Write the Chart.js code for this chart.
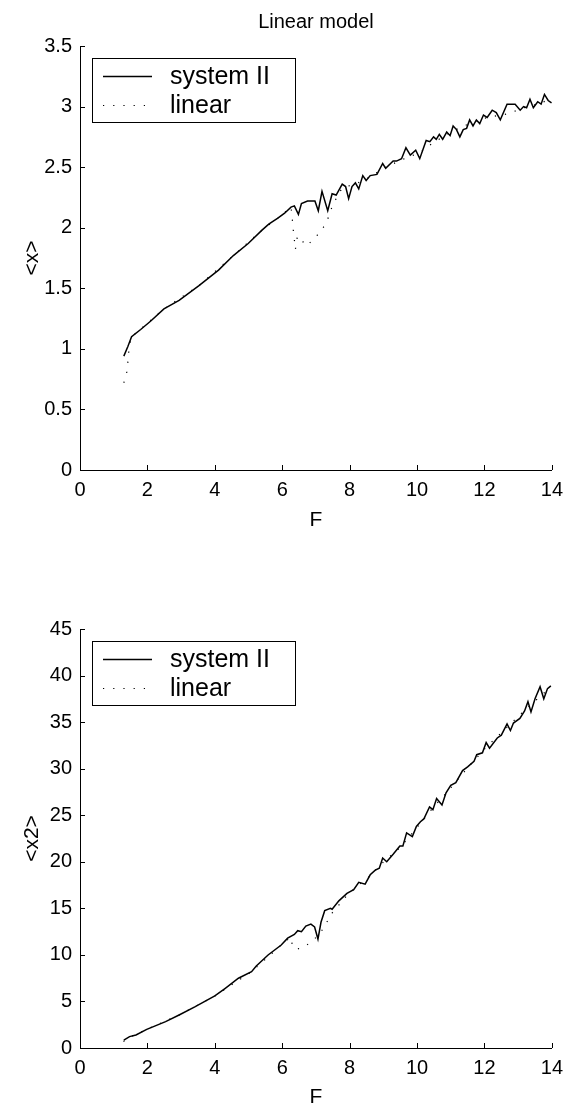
<!DOCTYPE html>
<html>
<head>
<meta charset="utf-8">
<title>Linear model</title>
<script src="https://cdn.jsdelivr.net/npm/chart.js@4/dist/chart.umd.min.js"></script>
<style>
  html, body { margin: 0; padding: 0; background: #fff; }
  #wrap { width: 571px; height: 1112px; position: relative; }
  canvas { display: block; }
</style>
</head>
<body>
<div id="wrap">
  <canvas id="topChart" width="571" height="540"></canvas>
  <canvas id="bottomChart" width="571" height="572"></canvas>
</div>
<script>
// <x> vs F
const fTopSys = [1.30, 1.42, 1.53, 1.8, 2.1, 2.49, 2.94, 3.52, 4.11, 4.55, 4.99, 5.40, 5.6, 5.87, 6.07, 6.26, 6.36, 6.48, 6.57, 6.75,
  6.97, 7.07, 7.18, 7.35, 7.48, 7.6, 7.78, 7.88, 7.97, 8.07, 8.17, 8.27, 8.39, 8.49, 8.61, 8.81, 8.98, 9.07, 9.29, 9.39,
  9.54, 9.67, 9.80, 9.96, 10.08, 10.27, 10.38, 10.49, 10.57, 10.66, 10.76, 10.88, 10.98, 11.07, 11.17, 11.27, 11.37, 11.47, 11.56, 11.66,
  11.76, 11.86, 11.97, 12.08, 12.23, 12.35, 12.47, 12.67, 12.91, 13.06, 13.16, 13.25, 13.35, 13.45, 13.58, 13.68, 13.78, 13.89, 13.99];
const xTopSys = [0.94, 1.02, 1.10, 1.16, 1.23, 1.33, 1.40, 1.52, 1.65, 1.77, 1.87, 1.98, 2.03, 2.08, 2.12, 2.17, 2.18, 2.11, 2.20, 2.22,
  2.22, 2.14, 2.30, 2.14, 2.28, 2.27, 2.36, 2.34, 2.24, 2.34, 2.37, 2.32, 2.43, 2.39, 2.43, 2.44, 2.53, 2.49, 2.55, 2.55,
  2.57, 2.66, 2.60, 2.64, 2.57, 2.72, 2.71, 2.75, 2.73, 2.77, 2.73, 2.79, 2.76, 2.84, 2.81, 2.75, 2.81, 2.82, 2.89, 2.84,
  2.89, 2.86, 2.93, 2.91, 2.97, 2.95, 2.89, 3.02, 3.02, 2.97, 3.00, 2.99, 3.06, 2.99, 3.04, 3.02, 3.10, 3.05, 3.03];

const fTopLin = [1.30, 1.39, 1.43, 1.46, 1.53, 2.49, 3.52, 4.55, 5.40, 5.87, 6.26, 6.29, 6.32, 6.36, 6.39, 6.45, 6.53, 6.72, 6.95, 7.14,
  7.31, 7.50, 7.78, 8.17, 8.61, 9.07, 9.54, 10.08, 10.47, 11.07, 11.56, 12.08, 12.70, 13.16, 13.58, 13.95];
const xTopLin = [0.72, 0.81, 0.92, 1.02, 1.10, 1.33, 1.52, 1.77, 1.98, 2.08, 2.17, 2.10, 2.00, 1.90, 1.82, 1.93, 1.91, 1.85, 1.91, 1.97,
  2.04, 2.19, 2.33, 2.36, 2.42, 2.50, 2.56, 2.62, 2.70, 2.80, 2.86, 2.91, 2.94, 2.99, 3.02, 3.06];

// <x2> vs F
const fBotSys = [1.30, 1.47, 1.66, 1.98, 2.54, 2.94, 3.42, 4.00, 4.31, 4.70, 5.09, 5.23, 5.58, 5.97, 6.16, 6.36, 6.46, 6.57, 6.70, 6.85,
  6.96, 7.06, 7.15, 7.26, 7.43, 7.48, 7.68, 7.92, 8.12, 8.27, 8.46, 8.61, 8.76, 8.88, 8.98, 9.10, 9.29, 9.49, 9.58, 9.69,
  9.86, 9.98, 10.1, 10.2, 10.37, 10.47, 10.58, 10.74, 10.86, 11.0, 11.15, 11.35, 11.50, 11.69, 11.77, 11.94, 12.05, 12.15, 12.38, 12.5,
  12.67, 12.77, 12.86, 13.05, 13.19, 13.29, 13.38, 13.50, 13.65, 13.76, 13.87, 13.97];
const x2BotSys = [0.85, 1.22, 1.40, 2.0, 2.83, 3.54, 4.44, 5.59, 6.41, 7.49, 8.2, 8.8, 9.99, 11.06, 11.8, 12.2, 12.6, 12.5, 13.1, 13.3,
  13.0, 11.7, 13.5, 14.75, 15.0, 14.9, 15.8, 16.6, 17.0, 17.8, 17.6, 18.6, 19.1, 19.3, 20.4, 20.0, 20.8, 21.7, 21.7, 23.1,
  22.7, 23.8, 24.3, 24.6, 25.9, 25.6, 26.8, 26.1, 27.4, 28.2, 28.5, 29.8, 30.2, 30.8, 31.5, 31.7, 32.8, 32.2, 33.3, 33.6,
  34.8, 34.1, 34.9, 35.4, 36.2, 37.2, 36.1, 37.5, 38.8, 37.5, 38.6, 38.9];

const fBotLin = [1.29, 1.47, 1.98, 2.94, 4.00, 5.09, 5.97, 6.25, 6.31, 6.41, 6.63, 6.90, 7.14, 7.32, 7.48, 7.67, 7.92, 8.27, 8.61, 8.98,
  9.49, 9.98, 10.47, 10.9, 11.5, 12.05, 12.6, 13.2, 13.7, 13.97];
const x2BotLin = [0.70, 1.15, 2.0, 3.54, 5.59, 8.2, 11.06, 11.9, 10.9, 10.6, 10.8, 11.5, 12.4, 13.5, 14.5, 15.3, 16.4, 17.5, 18.5, 19.9,
  21.5, 23.6, 25.8, 27.5, 30.1, 32.3, 34.2, 36.3, 37.9, 38.8];

const seriesNames = ["system II", "linear"];
const fTicks = [0, 2, 4, 6, 8, 10, 12, 14];

Chart.defaults.font.family = "'Liberation Sans', Arial, sans-serif";
Chart.defaults.color = "#000";

const toPoints = (xs, ys) => xs.map((x, i) => ({ x, y: ys[i] }));

// MATLAB-style ticks pointing into the axes
const inwardTicks = {
  id: "inwardTicks",
  afterDraw(chart) {
    const { ctx, chartArea, scales } = chart;
    ctx.save();
    ctx.strokeStyle = "#000";
    ctx.lineWidth = 1;
    ctx.beginPath();
    scales.x.ticks.forEach(t => {
      const px = Math.round(scales.x.getPixelForValue(t.value)) + 0.5;
      ctx.moveTo(px, chartArea.bottom);
      ctx.lineTo(px, chartArea.bottom - 5);
    });
    scales.y.ticks.forEach(t => {
      const py = Math.round(scales.y.getPixelForValue(t.value)) + 0.5;
      ctx.moveTo(chartArea.left, py);
      ctx.lineTo(chartArea.left + 5, py);
    });
    ctx.stroke();
    ctx.restore();
  }
};

// boxed legend in the upper left corner of the axes
const boxLegend = {
  id: "boxLegend",
  afterDraw(chart) {
    const { ctx, chartArea } = chart;
    const left = chartArea.left + 12;
    const top = chartArea.top + 12;
    ctx.save();
    ctx.fillStyle = "#fff";
    ctx.fillRect(left, top, 203, 64);
    ctx.strokeStyle = "#000";
    ctx.lineWidth = 1;
    ctx.strokeRect(left + 0.5, top + 0.5, 203, 64);
    chart.data.datasets.forEach((ds, i) => {
      const y = top + 18 + i * 29;
      ctx.beginPath();
      ctx.lineWidth = ds.borderWidth;
      ctx.setLineDash(ds.borderDash || []);
      ctx.moveTo(left + 11, y + 0.5);
      ctx.lineTo(left + 60, y + 0.5);
      ctx.stroke();
      ctx.setLineDash([]);
      ctx.fillStyle = "#000";
      ctx.font = "25px 'Liberation Sans', Arial, sans-serif";
      ctx.textBaseline = "middle";
      ctx.fillText(ds.label, left + 78, y + 1);
    });
    ctx.restore();
  }
};

const makeChart = (id, sys, lin, yMax, yStep, yTitle, title, padTop, xHeight, fPad) => {
  const ctx = document.getElementById(id).getContext("2d");
  return new Chart(ctx, {
    type: "line",
    data: {
      datasets: [
        { label: seriesNames[0], data: sys, borderColor: "#000", borderWidth: 1.5, pointRadius: 0, tension: 0 },
        { label: seriesNames[1], data: lin, borderColor: "#000", borderWidth: 1.2, borderDash: [1.2, 9], pointRadius: 0, tension: 0 }
      ]
    },
    options: {
      responsive: false,
      animation: false,
      layout: { padding: { top: padTop, right: 14, left: 0, bottom: 0 } },
      plugins: {
        legend: { display: false },
        tooltip: { enabled: false },
        title: {
          display: !!title,
          text: title,
          color: "#000",
          fullSize: false,
          font: { size: 20, weight: "normal" },
          padding: { top: 10, bottom: 12 }
        }
      },
      scales: {
        x: {
          type: "linear",
          min: 0,
          max: 14,
          afterBuildTicks: scale => { scale.ticks = fTicks.map(v => ({ value: v })); },
          ticks: { font: { size: 20 }, padding: 8, maxRotation: 0 },
          grid: { display: false, drawTicks: false },
          border: { display: true, color: "#000", width: 1 },
          title: { display: true, text: "F", font: { size: 21 }, padding: { top: 0, bottom: fPad } },
          afterFit: scale => { scale.height = xHeight; }
        },
        y: {
          min: 0,
          max: yMax,
          ticks: { stepSize: yStep, font: { size: 20 }, padding: 8, callback: v => String(v) },
          grid: { display: false, drawTicks: false },
          border: { display: true, color: "#000", width: 1 },
          title: { display: true, text: yTitle, font: { size: 21 }, padding: { top: 20, bottom: 0 } },
          afterFit: scale => { scale.width = 80; }
        }
      }
    },
    plugins: [inwardTicks, boxLegend]
  });
};

makeChart("topChart", toPoints(fTopSys, xTopSys), toPoints(fTopLin, xTopLin), 3.5, 0.5, "<x>", "Linear model", 0, 70, 7);
makeChart("bottomChart", toPoints(fBotSys, x2BotSys), toPoints(fBotLin, x2BotLin), 45, 5, "<x2>", "", 89, 64, 2);
</script>
</body>
</html>
